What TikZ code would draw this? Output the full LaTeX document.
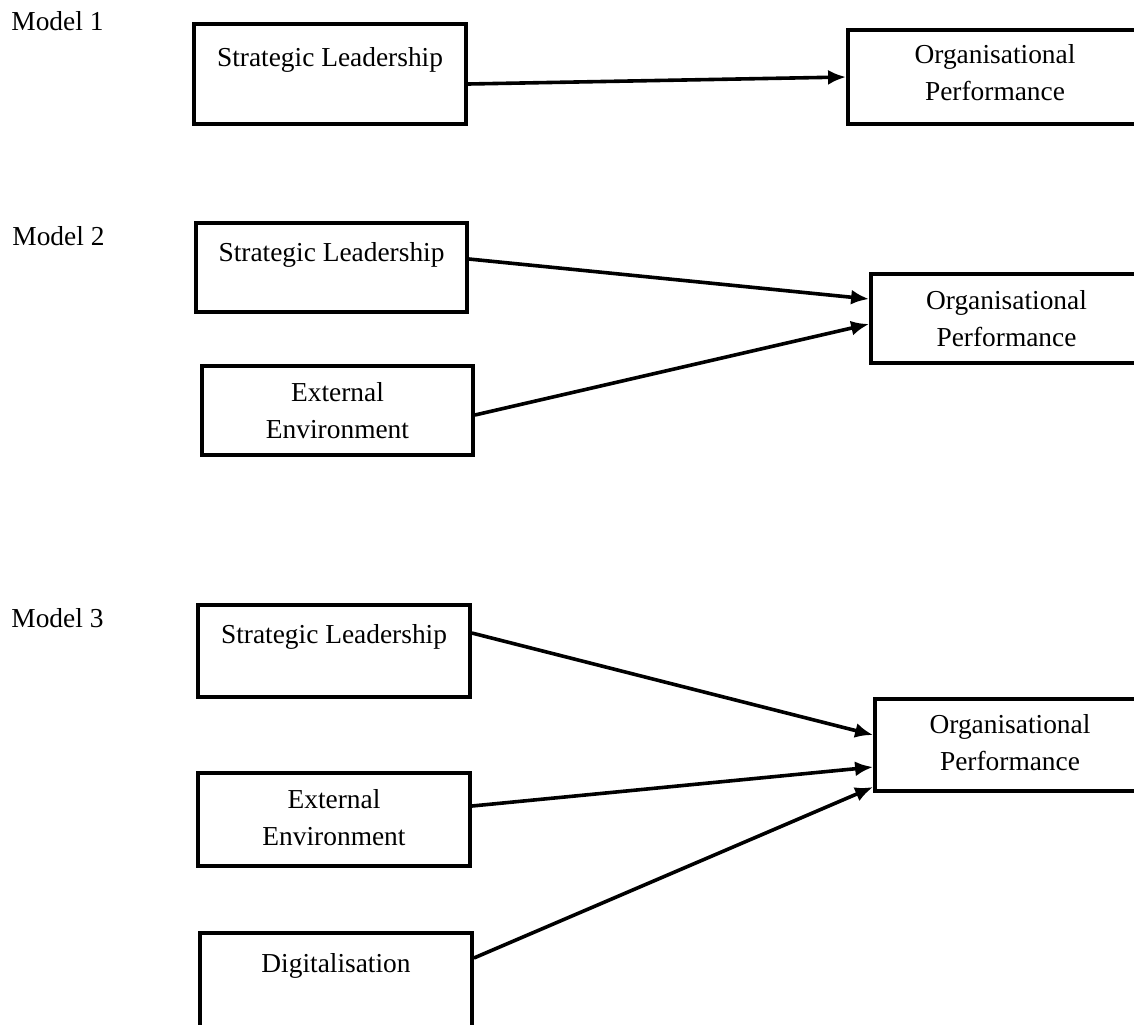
\documentclass[tikz,border=0pt]{standalone}
\usepackage{fontspec}
\setmainfont{Liberation Serif}
\usepackage{tikz}
\usetikzlibrary{arrows.meta, positioning, calc}

\begin{document}
\begin{tikzpicture}[
    x=0.5pt, y=-0.5pt,
    box/.style={draw=black, line width=1.9pt, minimum width=#1, minimum height=45pt, inner sep=0pt},
    tallbox/.style={box=#1, minimum height=50pt},
    txt/.style={inner sep=0pt, anchor=base, align=center, font=\fontsize{13.7}{18.5}\selectfont},
    model/.style={inner sep=0pt, anchor=base west, font=\fontsize{13.7}{18.5}\selectfont},
    link/.style={-{Latex[length=9pt, width=7.5pt]}, line width=1.8pt}
]
    \useasboundingbox (0,0) rectangle (1134,1024);
    \clip (0,0) rectangle (1134,1024);

    % Model 1
    \node[model] (m1) at (11,30) {Model 1};
    \node[tallbox=136pt] (sl1) at (330,74) {};
    \node[box=147pt, minimum height=47pt] (op1) at (995,77) {};
    \node[txt] (sl1txt) at ($(sl1.north)+(0,44)$) {Strategic Leadership};
    \node[txt] (op1txt) at ($(op1.north)+(0,72)$) {Organisational\\Performance};

    % Model 2
    \node[model] (m2) at (12,245) {Model 2};
    \node[box=135.5pt, minimum height=44.5pt] (sl2) at (331.5,267.5) {};
    \node[box=135.5pt, minimum height=44.5pt] (ee2) at (337.5,410.5) {};
    \node[box=135.5pt, minimum height=44.5pt] (op2) at (1006.5,318.5) {};
    \node[txt] (sl2txt) at ($(sl2.north)+(0,40)$) {Strategic Leadership};
    \node[txt] (ee2txt) at ($(ee2.north)+(0,74)$) {External\\Environment};
    \node[txt] (op2txt) at ($(op2.north)+(0,74)$) {Organisational\\Performance};

    % Model 3
    \node[model] (m3) at (11,627) {Model 3};
    \node[box=136pt, minimum height=46pt] (sl3) at (334,651) {};
    \node[box=136pt, minimum height=46.5pt] (ee3) at (334,819.5) {};
    \node[box=136pt, minimum height=47pt] (dig) at (336,980) {};
    \node[box=135pt, minimum height=46pt] (op3) at (1010,745) {};
    \node[txt] (sl3txt) at ($(sl3.north)+(0,40)$) {Strategic Leadership};
    \node[txt] (ee3txt) at ($(ee3.north)+(0,74)$) {External\\Environment};
    \node[txt] (digtxt) at ($(dig.north)+(0,41)$) {Digitalisation};
    \node[txt] (op3txt) at ($(op3.north)+(0,73)$) {Organisational\\Performance};

    % Arrows
    \draw[link] ($(sl1.east)+(0,10)$) -- (op1.west);
    \draw[link] ($(sl2.east)+(0,-8.5)$) -- ($(op2.west)+(0,-19.5)$);
    \draw[link] ($(ee2.east)+(0,4.5)$) -- ($(op2.west)+(0,5.5)$);
    \draw[link] ($(sl3.east)+(0,-18)$) -- ($(op3.west)+(0,-10)$);
    \draw[link] ($(ee3.east)+(0,-13.5)$) -- ($(op3.west)+(0,22)$);
    \draw[link] ($(dig.east)+(0,-22)$) -- ($(op3.west)+(0,42)$);
\end{tikzpicture}
\end{document}
